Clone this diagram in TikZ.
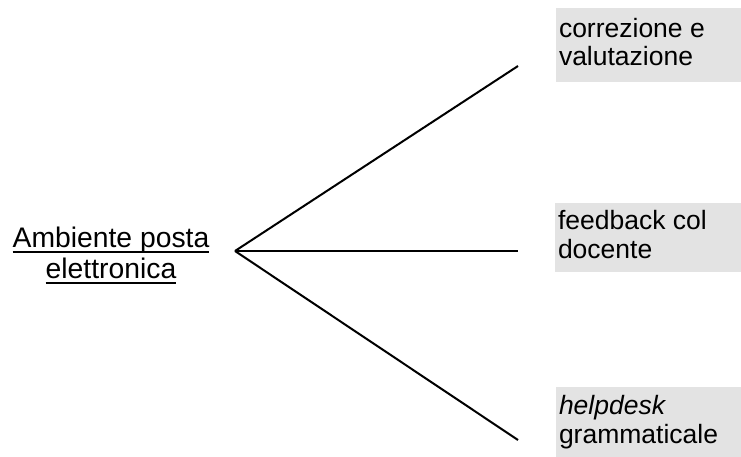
\documentclass[tikz,border=0pt]{standalone}
\usepackage{fontspec}
\setmainfont{Liberation Sans}
\definecolor{boxgray}{RGB}{227,227,227}
\begin{document}
\begin{tikzpicture}[x=1pt,y=-1pt,
  txt/.style={inner sep=0pt,outer sep=0pt,font=\fontsize{26.5}{30}\selectfont},
  lbl/.style={inner sep=0pt,outer sep=0pt,font=\fontsize{28.3}{32}\selectfont},
  graybox/.style={fill=boxgray,draw=none,inner sep=0pt,outer sep=0pt,anchor=north west},
  conn/.style={line width=2pt,black},
  uline/.style={line width=2pt,black}]
\useasboundingbox (0,0) rectangle (741,456);
% gray boxes
\node[graybox,minimum width=186pt,minimum height=74pt] (b1) at (556,8) {};
\node[graybox,minimum width=186pt,minimum height=69pt] (b2) at (555,203) {};
\node[graybox,minimum width=186pt,minimum height=70pt] (b3) at (556,387) {};
% box texts
\node[txt,anchor=base west] (t1a) at (559,37) {correzione e};
\node[txt,anchor=base west] (t1b) at (559,65) {valutazione};
\node[txt,anchor=base west] (t2a) at (558,229) {feedback col};
\node[txt,anchor=base west] (t2b) at (558,258) {docente};
\node[txt,anchor=base west] (t3a) at (559,414) {\itshape helpdesk};
\node[txt,anchor=base west] (t3b) at (559,443) {grammaticale};
% left label
\node[lbl,anchor=base] (l1) at (111,247) {Ambiente posta};
\node[lbl,anchor=base] (l2) at (111,278) {elettronica};
\draw[uline] ([yshift=-5pt]l1.base west) -- ([yshift=-5pt]l1.base east);
\draw[uline] ([yshift=-5pt]l2.base west) -- ([yshift=-5pt]l2.base east);
% connectors
\coordinate (j) at (235,251);
\coordinate (e1) at (518,66);
\coordinate (e2) at (518,251);
\coordinate (e3) at (518,440);
\draw[conn] (j) -- (e1);
\draw[conn] (j) -- (e2);
\draw[conn] (j) -- (e3);
\end{tikzpicture}
\end{document}
